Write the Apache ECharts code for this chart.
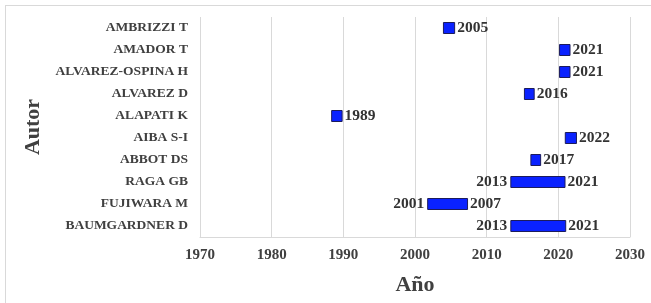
<!DOCTYPE html>
<html>
<head>
<meta charset="utf-8">
<script src="https://cdn.jsdelivr.net/npm/echarts@6/dist/echarts.min.js"></script>
<style>
html, body { margin: 0; padding: 0; background: #fff; }
#frame { position: absolute; left: 5px; top: 5px; width: 646px; height: 298px;
         border-left: 1px solid #d9d9d9; border-top: 1px solid #d9d9d9; box-sizing: border-box; }
#main { position: absolute; left: 0; top: 0; width: 651px; height: 303px; }
</style>
</head>
<body>
<div id="frame"></div>
<div id="main"></div>
<script>
// autores, de arriba hacia abajo
var authors = ['AMBRIZZI T', 'AMADOR T', 'ALVAREZ-OSPINA H', 'ALVAREZ D', 'ALAPATI K',
               'AIBA S-I', 'ABBOT DS', 'RAGA GB', 'FUJIWARA M', 'BAUMGARDNER D'];
// año inicial (solo cuando hay rango) y año final
var firstYear = [null, null, null, null, null, null, null, 2013, 2001, 2013];
var lastYear = [2005, 2021, 2021, 2016, 1989, 2022, 2017, 2021, 2007, 2021];
// extremos de cada barra
var barStart = [2003.9, 2020.1, 2020.1, 2015.2, 1988.3, 2020.9, 2016.1, 2013.3, 2001.7, 2013.3];
var barEnd = [2005.6, 2021.7, 2021.7, 2016.7, 1989.9, 2022.6, 2017.6, 2021.0, 2007.4, 2021.1];
var xTicks = [1970, 1980, 1990, 2000, 2010, 2020, 2030];

var font = 'Liberation Serif';
var textColor = '#404040';

var lengths = [];
for (var i = 0; i < barStart.length; i++) {
    lengths.push(+(barEnd[i] - barStart[i]).toFixed(2));
}

var myChart = echarts.init(document.getElementById('main'));
var option = {
    animation: false,
    grid: { left: 200, right: 21, top: 17, bottom: 66 },
    xAxis: {
        type: 'value',
        min: xTicks[0],
        max: xTicks[xTicks.length - 1],
        interval: 10,
        name: 'Año',
        nameLocation: 'middle',
        nameGap: 37,
        nameTextStyle: { fontFamily: font, fontWeight: 'bold', fontSize: 22, color: textColor },
        axisLine: { show: true, lineStyle: { color: '#d9d9d9' } },
        axisTick: { show: false },
        splitLine: { show: true, lineStyle: { color: '#d9d9d9' } },
        axisLabel: {
            fontFamily: font, fontWeight: 'bold', fontSize: 15, color: textColor, margin: 11,
            formatter: function (v) { return String(v); }
        }
    },
    yAxis: {
        type: 'category',
        data: authors,
        inverse: true,
        name: 'Autor',
        nameLocation: 'middle',
        nameRotate: 90,
        nameGap: 156,
        nameTextStyle: { fontFamily: font, fontWeight: 'bold', fontSize: 22, color: textColor },
        axisLine: { show: false },
        axisTick: { show: false },
        splitLine: { show: false },
        axisLabel: { fontFamily: font, fontWeight: 'bold', fontSize: 13.5, color: textColor, margin: 12 }
    },
    series: [
        {
            name: 'inicio',
            type: 'bar',
            stack: 'a',
            barWidth: 12,
            data: barStart,
            itemStyle: { color: 'transparent' },
            label: {
                show: true,
                position: 'insideRight',
                distance: 3,
                fontFamily: font, fontWeight: 'bold', fontSize: 15.5, color: '#333',
                formatter: function (p) { return firstYear[p.dataIndex] == null ? '' : firstYear[p.dataIndex]; }
            },
            silent: true
        },
        {
            name: 'periodo',
            type: 'bar',
            stack: 'a',
            barWidth: 12,
            data: lengths,
            itemStyle: { color: '#0a22ff', borderColor: '#1c1c5c', borderWidth: 1 },
            label: {
                show: true,
                position: 'right',
                distance: 2,
                fontFamily: font, fontWeight: 'bold', fontSize: 15.5, color: '#333',
                formatter: function (p) { return lastYear[p.dataIndex]; }
            }
        }
    ]
};
myChart.setOption(option);
</script>
</body>
</html>
